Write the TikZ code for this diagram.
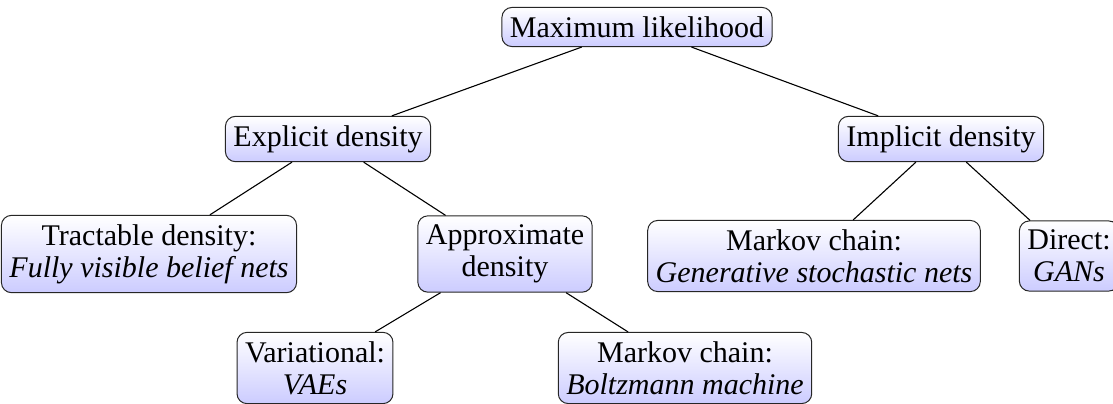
\documentclass[tikz,border=0pt]{standalone}
\usepackage{fontspec}
\setmainfont{Liberation Serif}
\begin{document}
\begin{tikzpicture}[x=0.5pt,y=-0.5pt,
  box/.style={draw=black!85, line width=0.5pt, rounded corners=5pt,
    top color=white, bottom color=blue!20, align=center,
    inner xsep=4pt, inner ysep=4.5pt, font=\fontsize{15}{16}\selectfont},
  link/.style={draw=black, line width=0.55pt}]
\useasboundingbox (0,0) rectangle (1113,403);

% taxonomy of generative models
\node[box] (max)    at (637,27)  {Maximum likelihood};
\node[box] (exp)    at (328,139) {Explicit density};
\node[box] (imp)    at (941,139) {Implicit density};
\node[box] (tract)  at (149,254) {Tractable density:\\ \textit{Fully visible belief nets}};
\node[box] (approx) at (505,254) {Approximate\\ density};
\node[box] (mcg)    at (814,256) {Markov chain:\\ \textit{Generative stochastic nets}};
\node[box] (direct) at (1069,256) {Direct:\\ \textit{GANs}};
\node[box] (var)    at (315,368) {Variational:\\ \textit{VAEs}};
\node[box] (boltz)  at (685,368) {Markov chain:\\ \textit{Boltzmann machine}};

% edges of the tree
\draw[link] (max) -- (exp);
\draw[link] (max) -- (imp);
\draw[link] (exp) -- (tract);
\draw[link] (exp) -- (approx);
\draw[link] (imp) -- (mcg);
\draw[link] (imp) -- (direct);
\draw[link] (approx) -- (var);
\draw[link] (approx) -- (boltz);
\end{tikzpicture}
\end{document}
